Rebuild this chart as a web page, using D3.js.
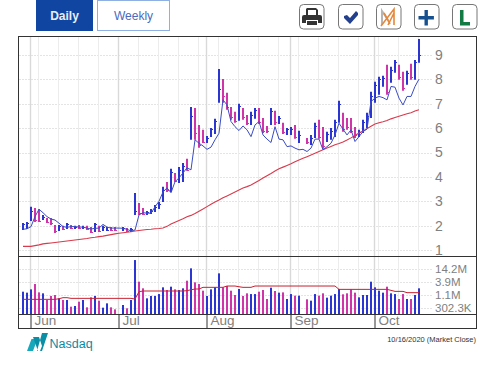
<!DOCTYPE html>
<html>
<head>
<meta charset="utf-8">
<script src="https://cdn.jsdelivr.net/npm/d3@7"></script>
<style>
  html, body { margin: 0; padding: 0; background: #fff; }
  svg { display: block; font-family: "Liberation Sans", Arial, sans-serif; }
</style>
</head>
<body>
<div id="chart"></div>
<script>
// b = up day, m = down day, - = no data that day
const colors = ("bbbmmbmmmb" + "mbmbmbmmbm" + "bbmm-bmbbm" + "mbbbbbmbmb" + "bmbmmmbbbb" + "mmmmbmmbbm" + "mmbmbmbbmb" + "-mbbmmbbbb" + "mmmmbbbbbb" + "bmbbmmbmbb").split("");
const highs = [2.11,2.15,2.77,2.72,2.68,2.44,2.31,2.31,2.03,2.03,1.99,2.11,2.03,1.99,2.03,1.99,1.99,1.94,2.11,1.99,1.99,1.94,1.94,1.94,null,1.94,1.90,1.90,3.34,2.93,2.72,2.60,2.68,2.85,2.97,3.59,3.79,4.33,4.16,4.41,4.57,4.74,6.87,6.83,6.13,5.93,5.68,6.01,6.38,8.43,8.02,7.45,6.87,6.67,7.00,6.83,6.54,6.67,6.83,6.83,6.42,6.09,6.83,6.71,6.50,6.22,6.01,6.05,6.13,5.89,null,5.60,5.72,6.22,6.34,6.05,5.85,6.01,6.34,7.12,6.63,6.42,6.42,6.05,5.93,6.34,6.63,7.49,7.90,8.11,8.15,8.60,8.52,8.80,8.60,8.31,8.35,8.64,8.80,9.66];
const lows = [1.82,1.86,2.19,2.15,2.15,2.23,2.11,2.03,1.70,1.78,1.82,1.86,1.86,1.86,1.86,1.86,1.82,1.70,1.74,1.74,1.78,1.78,1.78,1.78,null,1.78,1.74,1.74,2.44,2.44,2.44,2.44,2.48,2.56,2.68,2.97,3.38,3.38,3.79,3.75,3.79,4.25,5.52,5.52,5.19,5.39,5.39,5.64,5.76,7.04,7.04,6.75,6.34,6.22,6.30,6.34,6.13,6.13,6.38,6.17,5.80,5.80,6.13,6.13,6.17,5.76,5.72,5.72,5.56,5.39,null,5.35,5.31,5.60,5.56,5.15,5.43,5.52,5.64,6.22,5.85,5.93,5.80,5.60,5.64,5.80,6.01,6.42,7.04,7.37,7.70,7.37,7.86,8.27,7.98,7.53,7.78,7.98,7.98,8.68];
const closes = [2.05,2.10,2.60,2.25,2.20,2.35,2.15,2.10,1.78,1.98,1.85,2.05,1.90,1.95,1.90,1.95,1.86,1.75,2.05,1.80,1.95,1.82,1.82,1.82,null,1.90,1.78,1.86,2.60,2.50,2.48,2.55,2.62,2.78,2.90,3.45,3.45,4.20,3.85,4.30,4.45,4.30,6.50,5.80,5.30,5.45,5.60,5.95,6.30,7.60,7.30,6.85,6.45,6.30,6.90,6.45,6.20,6.55,6.75,6.25,5.90,5.90,6.70,6.25,6.40,5.85,5.95,5.95,5.65,5.70,null,5.42,5.60,6.10,5.65,5.25,5.75,5.90,6.25,7.00,5.95,6.05,5.90,5.70,5.85,6.25,6.50,7.30,7.75,8.00,8.05,7.50,8.40,8.70,8.10,7.65,8.25,8.10,8.70,9.00];
const strengthLine = [1.85,1.87,1.96,2.37,2.67,2.53,2.37,2.27,2.23,2.10,1.96,1.93,1.96,1.96,1.94,1.94,1.90,1.86,1.89,1.90,2.05,1.94,1.90,1.90,1.90,1.89,1.85,1.78,1.82,2.44,2.53,2.51,2.51,2.77,3.00,3.38,3.55,3.35,3.80,3.96,4.16,4.37,4.29,5.52,5.38,5.27,5.13,5.22,5.52,5.79,7.16,6.95,6.27,6.06,5.90,6.09,5.93,5.65,6.13,6.27,5.72,5.55,5.41,6.06,5.55,5.52,5.24,5.27,5.18,5.11,5.13,5.04,5.18,5.55,5.55,5.11,5.24,5.38,5.72,6.20,5.96,5.72,5.93,5.45,5.65,5.86,5.96,7.09,7.23,7.30,7.25,7.16,7.71,7.68,7.23,6.95,7.30,7.30,7.71,8.01];
const priceAvg = [1.15,1.15,1.15,1.18,1.21,1.25,1.27,1.29,1.31,1.33,1.35,1.37,1.39,1.41,1.43,1.45,1.47,1.50,1.52,1.55,1.57,1.60,1.63,1.66,1.69,1.71,1.73,1.75,1.78,1.80,1.82,1.84,1.85,1.87,1.88,1.90,1.97,2.07,2.14,2.21,2.28,2.36,2.42,2.50,2.59,2.68,2.78,2.88,2.97,3.05,3.14,3.22,3.30,3.38,3.46,3.54,3.60,3.67,3.76,3.85,3.95,4.05,4.14,4.24,4.33,4.40,4.47,4.54,4.62,4.69,4.76,4.83,4.90,4.97,5.04,5.11,5.18,5.25,5.32,5.37,5.43,5.51,5.60,5.70,5.80,5.88,5.98,6.08,6.17,6.22,6.26,6.31,6.38,6.44,6.49,6.54,6.59,6.63,6.70,6.75];
// volume in thousands of shares
const volumes = [1530,1390,1930,3280,1430,1300,669,1000,1100,790,669,669,345,369,567,669,323,872,1000,626,312,480,323,264,null,407,293,669,35600,4140,2140,790,1000,1000,1210,2360,1810,2520,1930,1810,2140,4570,15600,3880,3280,1690,1000,1930,2360,9470,2360,2690,1690,1100,2000,1000,1300,1210,1210,1530,1810,739,2280,1640,1390,1430,739,1210,1030,1030,null,716,626,1210,1030,1300,844,1030,1210,2000,1180,1300,1930,1390,872,1100,1100,4140,2360,1690,1390,2520,1300,1210,739,1210,739,739,1100,2140];
const volumeAvg = [716,716,716,716,716,716,716,716,716,760,844,844,790,790,790,790,790,790,790,790,790,790,790,790,790,790,790,790,739,1530,1640,1640,1640,1640,1640,1640,1640,1640,1640,1640,1640,1700,1850,2000,2000,2360,2360,2360,2360,2360,2360,2690,2690,2690,2500,2360,2360,2360,2690,2690,2690,2690,2690,2690,2690,2690,2690,2690,2690,2690,2690,2690,2690,2690,2690,2690,2690,2690,2690,1930,1930,1930,1930,1930,1930,1930,1930,1930,1930,1930,1930,1930,1750,1580,1580,1580,1390,1390,1390,1390];

const priceTicks = [1, 2, 3, 4, 5, 6, 7, 8, 9];
const volumeTicks = [302.3, 1100, 3900, 14200];
const volumeLabels = ["302.3K", "1.1M", "3.9M", "14.2M"];
const monthIndex = [2, 24, 46, 67, 88];
const monthNames = ["Jun", "Jul", "Aug", "Sep", "Oct"];
const weekIndex = [4, 9, 14, 19, 24, 29, 34, 39, 44, 49, 54, 59, 64, 69, 74, 79, 84, 89, 94, 99];

const svg = d3.select("#chart").append("svg").attr("width", 493).attr("height", 370);

// Scales
const x = d3.scaleLinear().domain([0, 99]).rangeRound([23, 419]);
const y = d3.scaleLinear().domain([1, 9]).range([250, 55]);
const yVol = d3.scaleLog().domain([166.5, 14200]).range([314, 269.3]);

// Gridlines
const grid = svg.append("g").attr("fill", "none");
const drawHGrid = (ys) => {
  grid.selectAll(null).data(ys).enter().append("line")
    .attr("x1", 19).attr("x2", 432)
    .attr("y1", (d) => Math.round(d) + 0.5).attr("y2", (d) => Math.round(d) + 0.5)
    .attr("stroke", "#e4e4e4").attr("stroke-dasharray", "2,1");
};
drawHGrid(priceTicks.map((d) => y(d)));
drawHGrid(volumeTicks.map((d) => yVol(d)));
[[37, 256], [257, 314]].forEach(([top, bottom]) => {
  grid.selectAll(null).data(weekIndex).enter().append("line")
    .attr("x1", (d) => x(d) - 0.5).attr("x2", (d) => x(d) - 0.5)
    .attr("y1", top).attr("y2", bottom)
    .attr("stroke", "#ececec");
  grid.selectAll(null).data(monthIndex).enter().append("line")
    .attr("x1", (d) => x(d) - 0.5).attr("x2", (d) => x(d) - 0.5)
    .attr("y1", top).attr("y2", bottom)
    .attr("stroke", "#d9d9d9").attr("stroke-width", 1.4);
});

// Price bars
const blue = "#2a35d2", pink = "#cf34a8";
const days = d3.range(highs.length).filter((i) => highs[i] !== null);
const barColor = (i) => (colors[i] === "b" ? blue : pink);

svg.append("g").selectAll("line").data(days).enter().append("line")
  .attr("x1", (i) => x(i)).attr("x2", (i) => x(i))
  .attr("y1", (i) => y(highs[i])).attr("y2", (i) => y(lows[i]))
  .attr("stroke", barColor).attr("stroke-width", 2);
svg.append("g").selectAll("line").data(days).enter().append("line")
  .attr("x1", (i) => x(i)).attr("x2", (i) => x(i) + 2)
  .attr("y1", (i) => Math.round(y(closes[i])) + 0.5).attr("y2", (i) => Math.round(y(closes[i])) + 0.5)
  .attr("stroke", barColor);

const line = (yScale) => d3.line().x((d, i) => x(i)).y((d) => yScale(d));

svg.append("path").attr("d", line(y)(priceAvg))
  .attr("fill", "none").attr("stroke", "#d93a4c").attr("stroke-width", 1.1);
svg.append("path").attr("d", line(y)(strengthLine))
  .attr("fill", "none").attr("stroke", "#3a4cc4").attr("stroke-width", 1);

// Volume bars
svg.append("g").selectAll("rect").data(d3.range(volumes.length).filter((i) => volumes[i] !== null)).enter().append("rect")
  .attr("x", (i) => x(i) - 1)
  .attr("width", 2)
  .attr("y", (i) => yVol(volumes[i]))
  .attr("height", (i) => 314 - yVol(volumes[i]))
  .attr("fill", barColor);
svg.append("path").attr("d", line(yVol)(volumeAvg))
  .attr("fill", "none").attr("stroke", "#c8202f").attr("stroke-width", 1);

// Frame
const frame = svg.append("g").attr("stroke", "#333").attr("fill", "none");
frame.append("rect").attr("x", 18.5).attr("y", 36.5).attr("width", 458).attr("height", 292);
frame.append("line").attr("x1", 18).attr("x2", 477).attr("y1", 256.5).attr("y2", 256.5);
frame.append("line").attr("x1", 18).attr("x2", 477).attr("y1", 314.5).attr("y2", 314.5);

// Axes
const monthAxis = d3.axisBottom(x).tickValues(monthIndex).tickSize(15)
  .tickFormat((d) => monthNames[monthIndex.indexOf(d)]);
const monthG = svg.append("g").attr("transform", "translate(-0.5,314)").call(monthAxis);
monthG.select(".domain").remove();
monthG.selectAll("line").attr("stroke", "#333");
monthG.selectAll("text").attr("text-anchor", "start").attr("x", 3.5).attr("y", 1.5)
  .attr("font-size", 13.5).attr("font-family", "'Liberation Sans', Arial, sans-serif").attr("fill", "#808080");

const priceAxis = d3.axisRight(y).tickValues(priceTicks).tickSize(0).tickPadding(0).tickFormat(d3.format("d"));
const priceG = svg.append("g").attr("transform", "translate(435,0)").call(priceAxis);
priceG.select(".domain").remove();
priceG.selectAll("text").attr("font-size", 14).attr("font-family", "'Liberation Sans', Arial, sans-serif").attr("fill", "#808080");

const volAxis = d3.axisRight(yVol).tickValues(volumeTicks).tickSize(0).tickPadding(0)
  .tickFormat((d) => volumeLabels[volumeTicks.indexOf(d)]);
const volG = svg.append("g").attr("transform", "translate(435,0)").call(volAxis);
volG.select(".domain").remove();
volG.selectAll("text").attr("font-size", 11.5).attr("font-family", "'Liberation Sans', Arial, sans-serif").attr("fill", "#808080");

svg.append("text").attr("x", 476).attr("y", 342).attr("text-anchor", "end")
  .attr("font-size", 7.5).attr("fill", "#333").text("10/16/2020 (Market Close)");

// Daily / Weekly tabs
svg.append("rect").attr("x", 36).attr("y", 0).attr("width", 57).attr("height", 31).attr("fill", "#1045a2");
svg.append("text").attr("x", 64.5).attr("y", 20).attr("text-anchor", "middle")
  .attr("font-size", 12).attr("font-weight", "bold").attr("fill", "#e8eef8").text("Daily");
svg.append("rect").attr("x", 97.5).attr("y", 0.5).attr("width", 72).attr("height", 30)
  .attr("fill", "#fff").attr("stroke", "#8fb0e2");
svg.append("text").attr("x", 133.5).attr("y", 20).attr("text-anchor", "middle")
  .attr("font-size", 12).attr("fill", "#4a6bbd").text("Weekly");

// Toolbar buttons
const buttons = [299.5, 338, 376, 414, 452];
svg.append("g").selectAll("rect").data(buttons).enter().append("rect")
  .attr("x", (d) => Math.floor(d) + 0.5).attr("y", 4.5).attr("width", 24.5).attr("height", 24.5).attr("rx", 4)
  .attr("fill", "#fff").attr("stroke", "#777");
// printer
svg.append("path").attr("transform", "translate(300,5)").attr("fill", "#333")
  .attr("d", "M7,3h9l2,2v5h-2V5H8v5H6V4z M4,10h16a2,2 0 0 1 2,2v6h-4v-3H6v3H2v-6a2,2 0 0 1 2,-2z M7,16h10v4H7z");
// check
svg.append("path").attr("transform", "translate(338,5)").attr("fill", "#23408e")
  .attr("d", "M6,11l3,-1l3,3l6,-7l2,2v2l-8,9l-6,-6z");
// M mark
svg.append("path").attr("transform", "translate(376,5)").attr("fill", "none").attr("stroke", "#b5b5b5").attr("stroke-width", 2)
  .attr("d", "M6,20V6l6,9");
svg.append("path").attr("transform", "translate(376,5)").attr("fill", "none").attr("stroke", "#e5883a").attr("stroke-width", 1.6)
  .attr("d", "M5,21L18,4v16 M12,20L18,8 M8,8l6,11");
// plus
svg.append("path").attr("transform", "translate(414,5)").attr("fill", "#17508f")
  .attr("d", "M10.5,5h3.4v6h6v3.4h-6v6h-3.4v-6h-6v-3.4h6z");
// L
svg.append("path").attr("transform", "translate(452,5)").attr("fill", "#127a43")
  .attr("d", "M8,5h3.5v12H18v3.5H8z");

// Nasdaq logo
svg.append("path").attr("fill", "#17a9bb").attr("d", "M27,351h6l4.5,-12h-6z");
svg.append("path").attr("fill", "#0a8fa6").attr("d", "M33,337h6l3,9l-2,5h-2z M37,351h5l6,-18h-6z");
svg.append("text").attr("x", 49.5).attr("y", 347.5).attr("font-size", 12.5).attr("fill", "#0d89a2").text("Nasdaq");
</script>
</body>
</html>
